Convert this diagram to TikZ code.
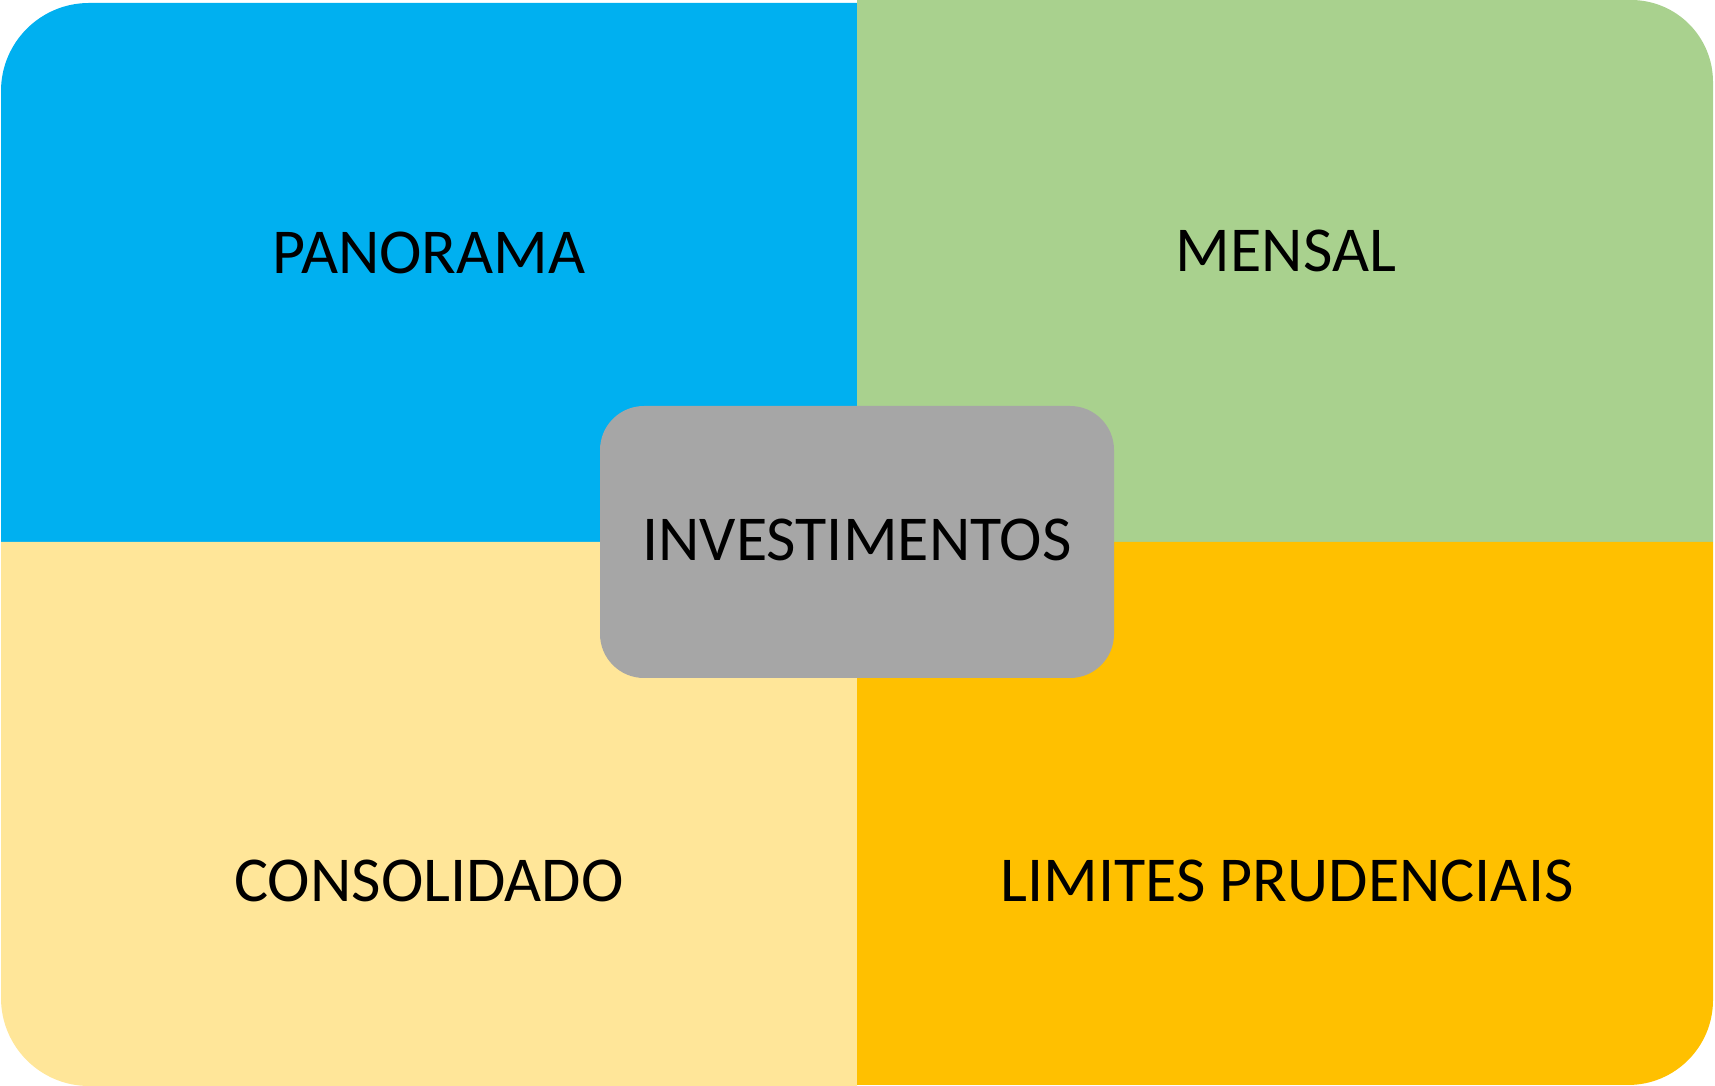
\documentclass[tikz,border=0pt]{standalone}
\usepackage{fontspec}
\setmainfont{Carlito}
\definecolor{qblue}{HTML}{00B0F0}
\definecolor{qgreen}{HTML}{A9D18E}
\definecolor{qbeige}{HTML}{FFE699}
\definecolor{qorange}{HTML}{FFC000}
\definecolor{qgray}{HTML}{A6A6A6}
\begin{document}
\begin{tikzpicture}[x=1pt,y=1pt,
  lbl/.style={inner sep=0pt,font=\fontsize{64}{72}\selectfont,text=black}]
\useasboundingbox (0,0) rectangle (1715,1086);
% quadrants
\fill[qblue] (1,544) -- (1,995) arc[start angle=180,end angle=90,radius=88] -- (857,1083) -- (857,544) -- cycle;
\fill[qgreen] (857,544) -- (857,1086) -- (1631,1086) arc[start angle=90,end angle=0,radius=82] -- (1713,544) -- cycle;
\fill[qbeige] (857,544) -- (1,544) -- (1,88) arc[start angle=180,end angle=270,radius=88] -- (857,0) -- cycle;
\fill[qorange] (857,544) -- (1713,544) -- (1713,86) arc[start angle=0,end angle=-90,radius=85] -- (857,1) -- cycle;
% labels
\node[lbl] (pan) at (429,833) {PANORAMA};
\node[lbl] (men) at (1286,835) {MENSAL};
\node[lbl] (con) at (429,205) {CONSOLIDADO};
\node[lbl] (lim) at (1287,205) {LIMITES PRUDENCIAIS};
% center
\node[fill=qgray,rounded corners=44pt,minimum width=514pt,minimum height=272pt,inner sep=0pt] (inv) at (857,544) {};
\node[lbl] (invt) at (857,546) {INVESTIMENTOS};
\end{tikzpicture}
\end{document}
